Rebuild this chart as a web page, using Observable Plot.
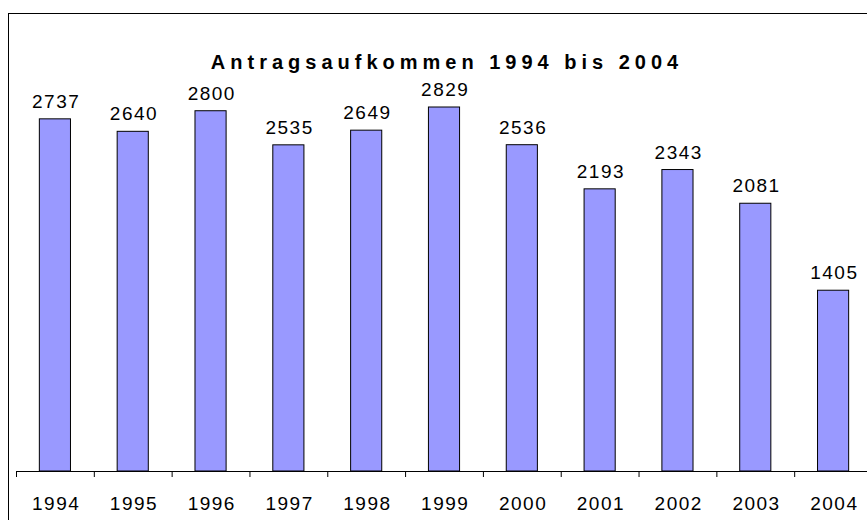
<!DOCTYPE html>
<html>
<head>
<meta charset="utf-8">
<script src="https://cdn.jsdelivr.net/npm/d3@7"></script>
<script src="https://cdn.jsdelivr.net/npm/@observablehq/plot@0.6"></script>
<style>
  html, body { margin: 0; padding: 0; background: #fff; overflow: hidden; width: 867px; height: 520px; }
  #frame { position: absolute; left: 8px; top: 13px; width: 900px; height: 600px; border: 1px solid #000; box-sizing: border-box; }
  #title { position: absolute; left: 0; width: 889px; padding-left: 5px; box-sizing: border-box; top: 50px; text-align: center;
    font-family: "Liberation Sans", Arial, sans-serif; font-weight: bold; font-size: 20px; letter-spacing: 5px; color: #000; line-height: 24px; }
  #chart { position: absolute; left: 0; top: 0; }
  svg { font-family: "Liberation Sans", Arial, sans-serif; }
  .lbl text { letter-spacing: 1.5px; }
</style>
</head>
<body>
<div id="frame"></div>
<div id="chart"></div>
<div id="title">Antragsaufkommen 1994 bis 2004</div>
<script>
const years = ["1994","1995","1996","1997","1998","1999","2000","2001","2002","2003","2004"];
const counts = [2737, 2640, 2800, 2535, 2649, 2829, 2536, 2193, 2343, 2081, 1405];
const titleText = "Antragsaufkommen 1994 bis 2004";

const data = years.map((y, i) => ({year: y, value: counts[i]}));
const W = 867, H = 520;
const x0 = 16, x1 = 872;
const mTop = 85, mBottom = 49;
const step = (x1 - x0) / years.length;
const yMax = 3000;
const tickLen = 6 * yMax / (H - mTop - mBottom);

const chart = Plot.plot({
  width: W,
  height: H,
  marginLeft: 16,
  marginRight: 0,
  marginTop: mTop,
  marginBottom: mBottom,
  style: {background: "transparent", overflow: "visible"},
  x: {domain: years, range: [x0, x1], paddingInner: 0.6, paddingOuter: 0.3, round: false, axis: null},
  y: {domain: [0, yMax], axis: null},
  marks: [
    Plot.barY(data, {x: "year", y: "value", fill: "#9999FF", stroke: "#000", strokeWidth: 1}),
    Plot.ruleY([0], {stroke: "#000", strokeWidth: 1}),
    Plot.ruleX(years, {x: d => d, y1: 0, y2: -tickLen, dx: -step / 2, stroke: "#000", strokeWidth: 1}),
    Plot.text(data, {x: "year", y: 0, text: "year", dy: 38, dx: 0.75, lineAnchor: "bottom", fontSize: 19, fill: "#000", className: "lbl"}),
    Plot.text(data, {x: "year", y: "value", text: d => String(d.value), dy: -11.5, dx: 0.75, lineAnchor: "bottom", fontSize: 19, fill: "#000", className: "lbl"})
  ]
});
document.getElementById("chart").appendChild(chart);
</script>
</body>
</html>
